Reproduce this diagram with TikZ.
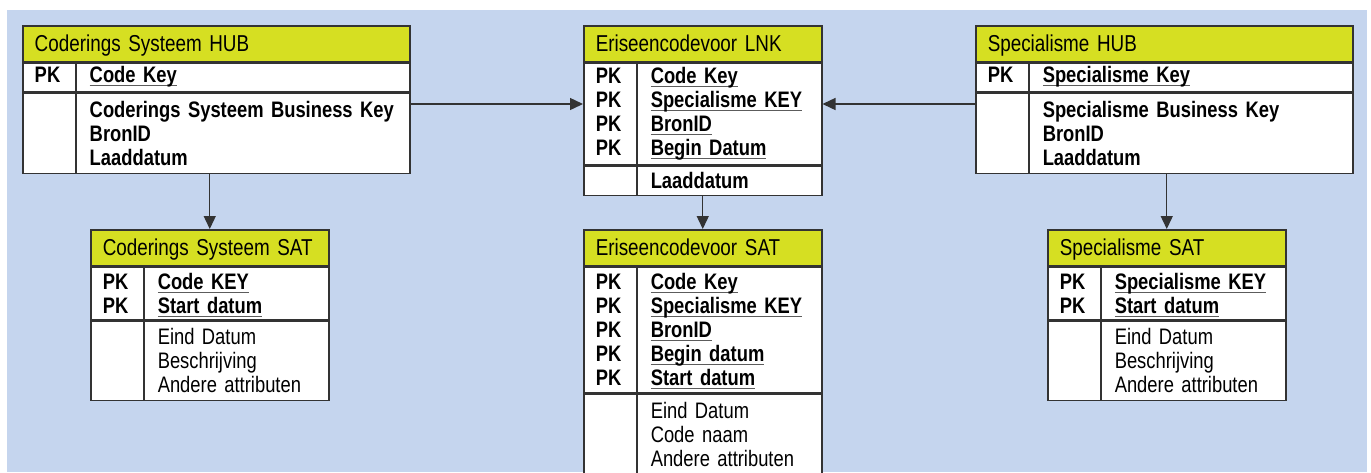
\documentclass[tikz,border=0pt]{standalone}
\usepackage{fontspec}
\setmainfont{Liberation Sans}[FakeStretch=0.82, WordSpace=0.8]
\usepackage{tikz}
\usetikzlibrary{arrows.meta, positioning}
\definecolor{panelblue}{RGB}{197, 213, 238}
\definecolor{hublime}{RGB}{214, 223, 34}
\definecolor{edgegray}{RGB}{51, 51, 51}
\newsavebox{\ulbox}
\newcommand{\keyline}[1]{\makebox[27.5pt][l]{PK}\sbox{\ulbox}{#1}%
  \rlap{\smash{\color{edgegray!80}\rule[-1.8pt]{\wd\ulbox}{0.55pt}}}\usebox{\ulbox}}
\newcommand{\attrline}[1]{\hspace*{27.5pt}#1}

\begin{document}
\begin{tikzpicture}[
        x=0.5pt, y=-0.5pt,
        node distance=0pt,
        tblhead/.style={rectangle, draw=edgegray, line width=0.75pt, fill=hublime,
                    anchor=north west, minimum height=17.75pt, inner xsep=6pt,
                    inner ysep=0pt, text depth=0pt, align=left,
                    font=\fontsize{11.5}{13}\selectfont},
        tblrow/.style={rectangle, draw=edgegray, line width=0.75pt, fill=white,
                    inner xsep=6pt, inner ysep=0pt, align=left,
                    font=\fontsize{11.2}{12}\selectfont\bfseries},
        satrow/.style={tblrow, font=\fontsize{11.2}{12}\selectfont},
        divider/.style={draw=edgegray, line width=0.75pt},
        arrow/.style={-{Triangle[length=6.5pt, width=6pt]}, line width=0.7pt, draw=edgegray}
      ]
        \useasboundingbox (0,0) rectangle (1371,472);
        \fill[panelblue] (7,10) rectangle (1367,472);

        % hubs and link
        \node[tblhead, text width=181.5pt] (cshub) at (22,25) {Coderings Systeem HUB};
        \node[tblrow, below=of cshub, text width=181.5pt, minimum height=14.25pt] (cshub-keys)
            {\keyline{Code Key}};
        \node[tblrow, below=of cshub-keys, text width=181.5pt, minimum height=40.25pt] (cshub-body)
            {\attrline{Coderings Systeem Business Key}\\ \attrline{BronID}\\ \attrline{Laaddatum}};

        \node[tblhead, text width=107pt] (lnk) at (583,25) {Eriseencodevoor LNK};
        \node[tblrow, below=of lnk, text width=107pt, minimum height=50.75pt] (lnk-keys)
            {\keyline{Code Key}\\ \keyline{Specialisme KEY}\\ \keyline{BronID}\\ \keyline{Begin Datum}};
        \node[tblrow, below=of lnk-keys, text width=107pt, minimum height=14.75pt] (lnk-body)
            {\attrline{Laaddatum}};

        \node[tblhead, text width=176.5pt] (sphub) at (975,25) {Specialisme HUB};
        \node[tblrow, below=of sphub, text width=176.5pt, minimum height=14.25pt] (sphub-keys)
            {\keyline{Specialisme Key}};
        \node[tblrow, below=of sphub-keys, text width=176.5pt, minimum height=40.25pt] (sphub-body)
            {\attrline{Specialisme Business Key}\\ \attrline{BronID}\\ \attrline{Laaddatum}};

        % satellites
        \node[tblhead, text width=107pt] (cssat) at (90,229) {Coderings Systeem SAT};
        \node[tblrow, below=of cssat, text width=107pt, minimum height=26.25pt] (cssat-keys)
            {\keyline{Code KEY}\\ \keyline{Start datum}};
        \node[satrow, below=of cssat-keys, text width=107pt, minimum height=39.75pt] (cssat-body)
            {\attrline{Eind Datum}\\ \attrline{Beschrijving}\\ \attrline{Andere attributen}};

        \node[tblhead, text width=107pt] (esat) at (583,229) {Eriseencodevoor SAT};
        \node[tblrow, below=of esat, text width=107pt, minimum height=62.75pt] (esat-keys)
            {\keyline{Code Key}\\ \keyline{Specialisme KEY}\\ \keyline{BronID}\\
             \keyline{Begin datum}\\ \keyline{Start datum}};
        \node[satrow, below=of esat-keys, text width=107pt, minimum height=41pt] (esat-body)
            {\attrline{Eind Datum}\\ \attrline{Code naam}\\ \attrline{Andere attributen}};

        \node[tblhead, text width=107pt] (spsat) at (1047,229) {Specialisme SAT};
        \node[tblrow, below=of spsat, text width=107pt, minimum height=26.25pt] (spsat-keys)
            {\keyline{Specialisme KEY}\\ \keyline{Start datum}};
        \node[satrow, below=of spsat-keys, text width=107pt, minimum height=39.75pt] (spsat-body)
            {\attrline{Eind Datum}\\ \attrline{Beschrijving}\\ \attrline{Andere attributen}};

        % column dividers
        \foreach \t in {cshub, lnk, sphub, cssat, esat, spsat}
          \draw[divider] ([xshift=27pt]\t-keys.north west) -- ([xshift=27pt]\t-body.south west);

        % connectors
        \coordinate (linkrow) at (0,104);
        \draw[arrow] (cshub-body.east |- linkrow) -- (lnk-keys.west |- linkrow);
        \draw[arrow] (sphub-body.west |- linkrow) -- (lnk-keys.east |- linkrow);
        \draw[arrow] (cshub-body.south -| cssat.north) -- (cssat.north);
        \draw[arrow] (lnk-body.south -| esat.north) -- (esat.north);
        \draw[arrow] (sphub-body.south -| spsat.north) -- (spsat.north);
      \end{tikzpicture}
\end{document}
